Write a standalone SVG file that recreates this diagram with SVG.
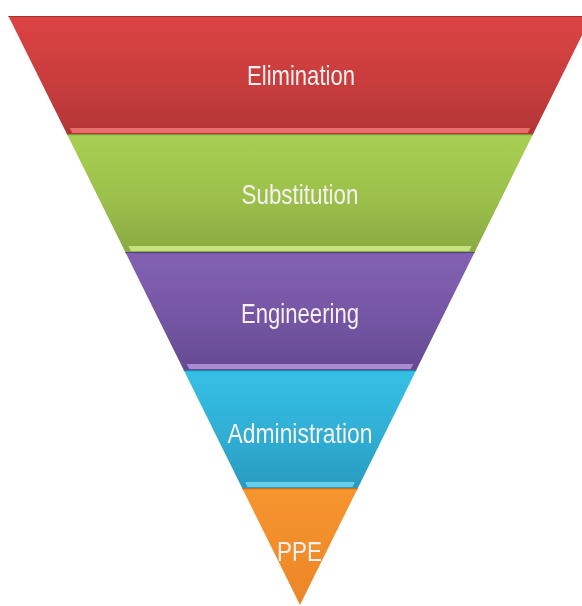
<svg xmlns="http://www.w3.org/2000/svg" width="582" height="606" viewBox="0 0 582 606">
  <defs>
    <linearGradient id="gRed" x1="0" y1="0" x2="0" y2="1">
      <stop offset="0" stop-color="#DC4343"/>
      <stop offset="0.55" stop-color="#C93D3D"/>
      <stop offset="1" stop-color="#B23535"/>
    </linearGradient>
    <linearGradient id="gGreen" x1="0" y1="0" x2="0" y2="1">
      <stop offset="0" stop-color="#A8CF52"/>
      <stop offset="0.55" stop-color="#9CC04B"/>
      <stop offset="1" stop-color="#8AAA42"/>
    </linearGradient>
    <linearGradient id="gPurple" x1="0" y1="0" x2="0" y2="1">
      <stop offset="0" stop-color="#8261B2"/>
      <stop offset="0.55" stop-color="#7556A4"/>
      <stop offset="1" stop-color="#654A92"/>
    </linearGradient>
    <linearGradient id="gBlue" x1="0" y1="0" x2="0" y2="1">
      <stop offset="0" stop-color="#36C0E6"/>
      <stop offset="0.55" stop-color="#30AED4"/>
      <stop offset="1" stop-color="#299BC0"/>
    </linearGradient>
    <linearGradient id="gOrange" x1="0" y1="0" x2="0" y2="1">
      <stop offset="0" stop-color="#F7952F"/>
      <stop offset="1" stop-color="#EC8628"/>
    </linearGradient>
    <filter id="soft" x="-5%" y="-5%" width="110%" height="110%">
      <feGaussianBlur stdDeviation="0.6"/>
    </filter>
  </defs>
  <style>
    .lbl { font-family: "Liberation Sans Narrow", "Liberation Sans", Arial, sans-serif; font-size: 28px; fill: #F5F1F1; text-anchor: middle; }
    .edge { fill: none; stroke-width: 1.2; }
  </style>

  <rect width="582" height="606" fill="#FFFFFF"/>

  <g filter="url(#soft)">
    <!-- band 1 -->
    <g id="elimination">
      <polygon points="8.4,16 591.6,16 533.1,134 66.9,134" fill="url(#gRed)"/>
      <line x1="8.4" y1="16.5" x2="591.6" y2="16.5" stroke="#A83030" class="edge"/>
      <polygon points="69.8,128 530.2,128 527.7,133 72.3,133" fill="#E86E6C"/>
      <text class="lbl" x="301" y="85" textLength="108" lengthAdjust="spacingAndGlyphs">Elimination</text>
    </g>

    <!-- band 2 -->
    <g id="substitution">
      <polygon points="66.9,134 533.1,134 474.7,252 125.3,252" fill="url(#gGreen)"/>
      <line x1="66.9" y1="134.6" x2="533.1" y2="134.6" stroke="#7E9A3A" class="edge"/>
      <polygon points="128.3,246 471.7,246 469.2,251 130.8,251" fill="#C6E27E"/>
      <text class="lbl" x="300" y="204" textLength="117" lengthAdjust="spacingAndGlyphs">Substitution</text>
    </g>

    <!-- band 3 -->
    <g id="engineering">
      <polygon points="125.3,252 474.7,252 416.3,370 183.7,370" fill="url(#gPurple)"/>
      <line x1="125.3" y1="252.6" x2="474.7" y2="252.6" stroke="#5C4386" class="edge"/>
      <polygon points="186.7,364 413.3,364 410.8,369 189.2,369" fill="#A98CD2"/>
      <text class="lbl" x="300" y="323" textLength="118" lengthAdjust="spacingAndGlyphs">Engineering</text>
    </g>

    <!-- band 4 -->
    <g id="administration">
      <polygon points="183.7,370 416.3,370 357.9,488 242.1,488" fill="url(#gBlue)"/>
      <line x1="183.7" y1="370.6" x2="416.3" y2="370.6" stroke="#2488AA" class="edge"/>
      <polygon points="245.1,482 354.9,482 352.4,487 247.6,487" fill="#66CDEA"/>
      <text class="lbl" x="300" y="443" textLength="145" lengthAdjust="spacingAndGlyphs">Administration</text>
    </g>

    <!-- band 5 -->
    <g id="ppe">
      <polygon points="242.1,488 357.9,488 300,605" fill="url(#gOrange)"/>
      <line x1="242.1" y1="488.6" x2="357.9" y2="488.6" stroke="#C77020" class="edge"/>
      <text class="lbl" x="299.5" y="561" textLength="45" lengthAdjust="spacingAndGlyphs">PPE</text>
    </g>
  </g>
</svg>
